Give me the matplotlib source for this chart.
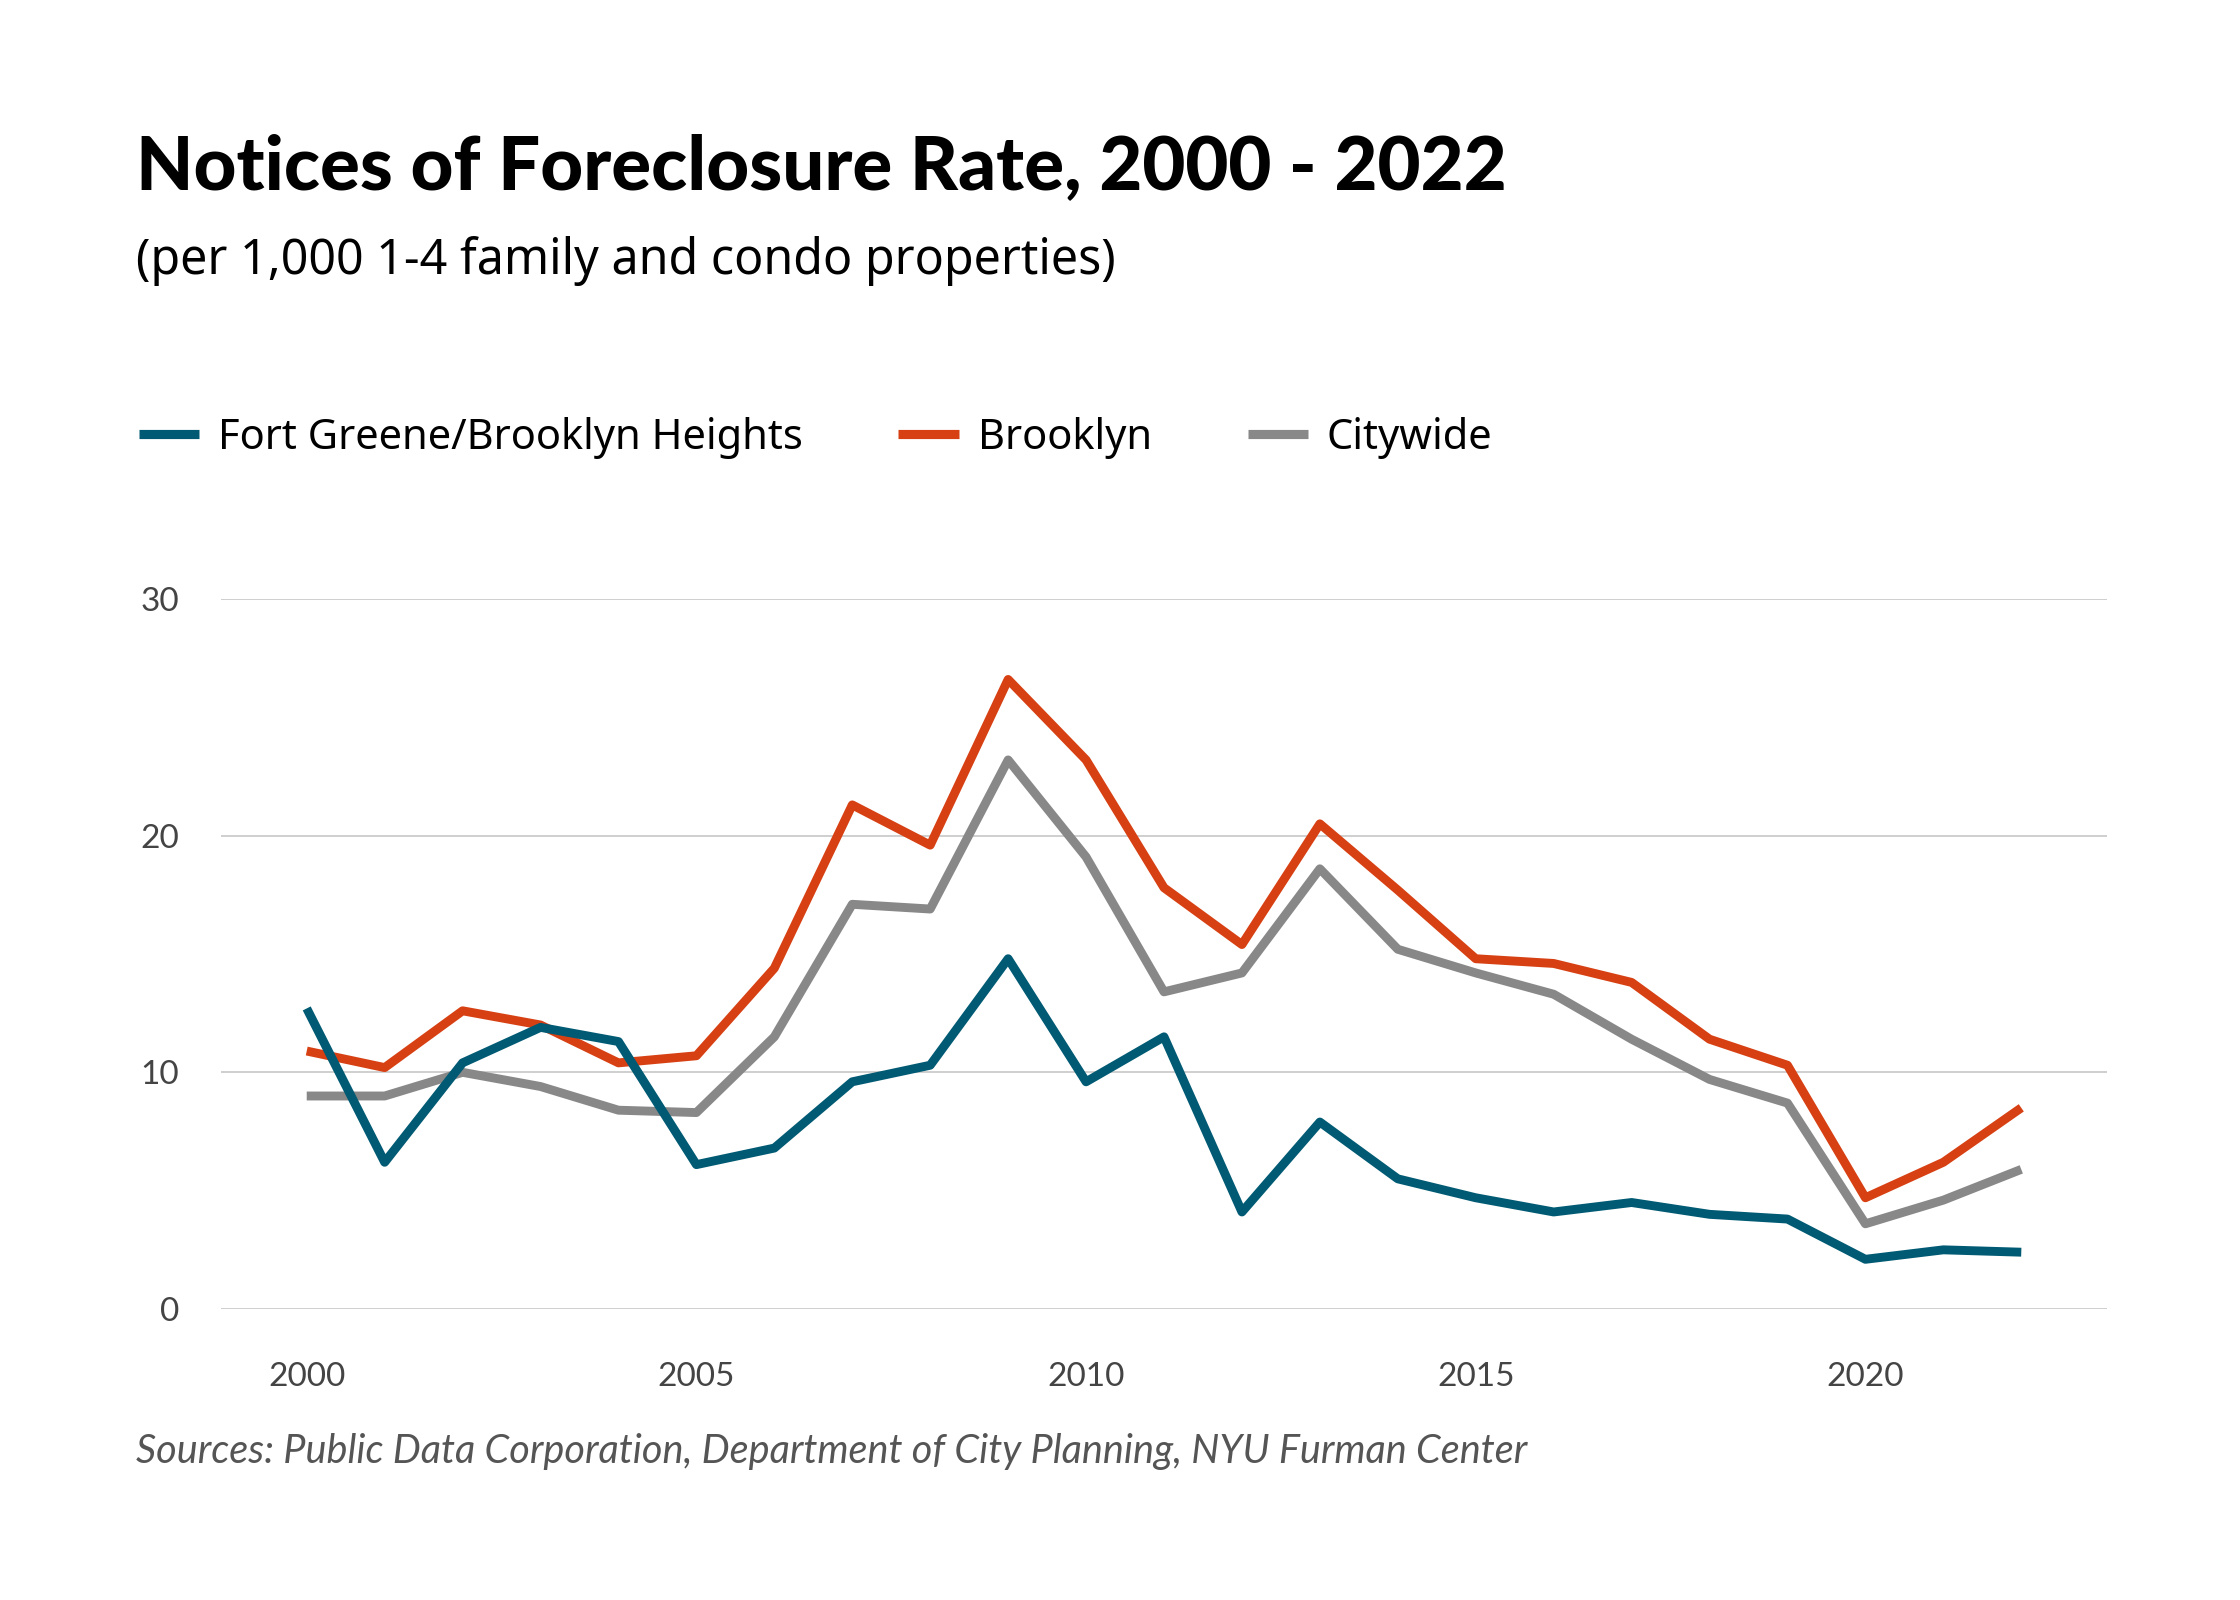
import matplotlib
matplotlib.use("Agg")
import matplotlib.pyplot as plt
from matplotlib.lines import Line2D

# values
years = list(range(2000, 2023))
fort_greene = [12.7, 6.2, 10.4, 11.9, 11.3, 6.1, 6.8, 9.6, 10.3, 14.8, 9.6, 11.5,
               4.1, 7.9, 5.5, 4.7, 4.1, 4.5, 4.0, 3.8, 2.1, 2.5, 2.4]
brooklyn = [10.9, 10.2, 12.6, 12.0, 10.4, 10.7, 14.4, 21.3, 19.6, 26.6, 23.2, 17.8,
            15.4, 20.5, 17.7, 14.8, 14.6, 13.8, 11.4, 10.3, 4.7, 6.2, 8.5]
citywide = [9.0, 9.0, 10.0, 9.4, 8.4, 8.3, 11.5, 17.1, 16.9, 23.2, 19.1, 13.4,
            14.2, 18.6, 15.2, 14.2, 13.3, 11.4, 9.7, 8.7, 3.6, 4.6, 5.9]

series_names = ["Fort Greene/Brooklyn Heights", "Brooklyn", "Citywide"]
series_colors = ["#005a73", "#d74013", "#888888"]
x_ticks = [2000, 2005, 2010, 2015, 2020]
y_ticks = [0, 10, 20, 30]

W, H, DPI = 2240, 1600, 200
fig = plt.figure(figsize=(W / DPI, H / DPI), dpi=DPI)
fig.patch.set_facecolor("white")

ax = fig.add_axes([221 / W, 1 - 1309 / H, (2107 - 221) / W, (1309 - 599) / H])

# grey first so teal/orange sit on top, like the reference
ax.plot(years, citywide, color=series_colors[2], lw=3.2, solid_capstyle="butt", zorder=3)
ax.plot(years, brooklyn, color=series_colors[1], lw=3.2, solid_capstyle="butt", zorder=4)
ax.plot(years, fort_greene, color=series_colors[0], lw=3.2, solid_capstyle="butt", zorder=5)

ax.set_xlim(1998.9, 2023.1)
ax.set_ylim(0, 30)
ax.set_xticks(x_ticks)
ax.set_yticks(y_ticks)
ax.grid(axis="y", color="#cfcfcf", lw=0.7)
ax.set_axisbelow(True)
for s in ax.spines.values():
    s.set_visible(False)
ax.tick_params(axis="both", length=0, labelsize=12, labelcolor="#444444")
ax.tick_params(axis="x", pad=19)
ax.tick_params(axis="y", pad=15)
for lab in ax.get_xticklabels() + ax.get_yticklabels():
    lab.set_fontfamily("Lato")

fig.text(136 / W, 1 - 189 / H, "Notices of Foreclosure Rate, 2000 - 2022",
         fontsize=26.8, fontweight="black", family="Lato", color="black",
         ha="left", va="baseline")
fig.text(136 / W, 1 - 274 / H, "(per 1,000 1-4 family and condo properties)",
         fontsize=17.45, family="Noto Sans", color="black", ha="left", va="baseline")

handles = [Line2D([0], [0], color=c, lw=3.3, solid_capstyle="butt") for c in series_colors]
leg = fig.legend(handles, series_names, ncol=3, loc="center left",
                 bbox_to_anchor=(101 / W, 1 - 438 / H), frameon=False,
                 handlelength=1.45, handletextpad=0.45, columnspacing=2.3,
                 prop={"family": "Noto Sans", "size": 15})

fig.text(136 / W, 1 - 1452 / H,
         "Sources: Public Data Corporation, Department of City Planning, NYU Furman Center",
         fontsize=14.25, family="Lato", style="italic",
         color="#555555", ha="left", va="center")

fig.savefig("out.png", dpi=DPI, facecolor="white")
